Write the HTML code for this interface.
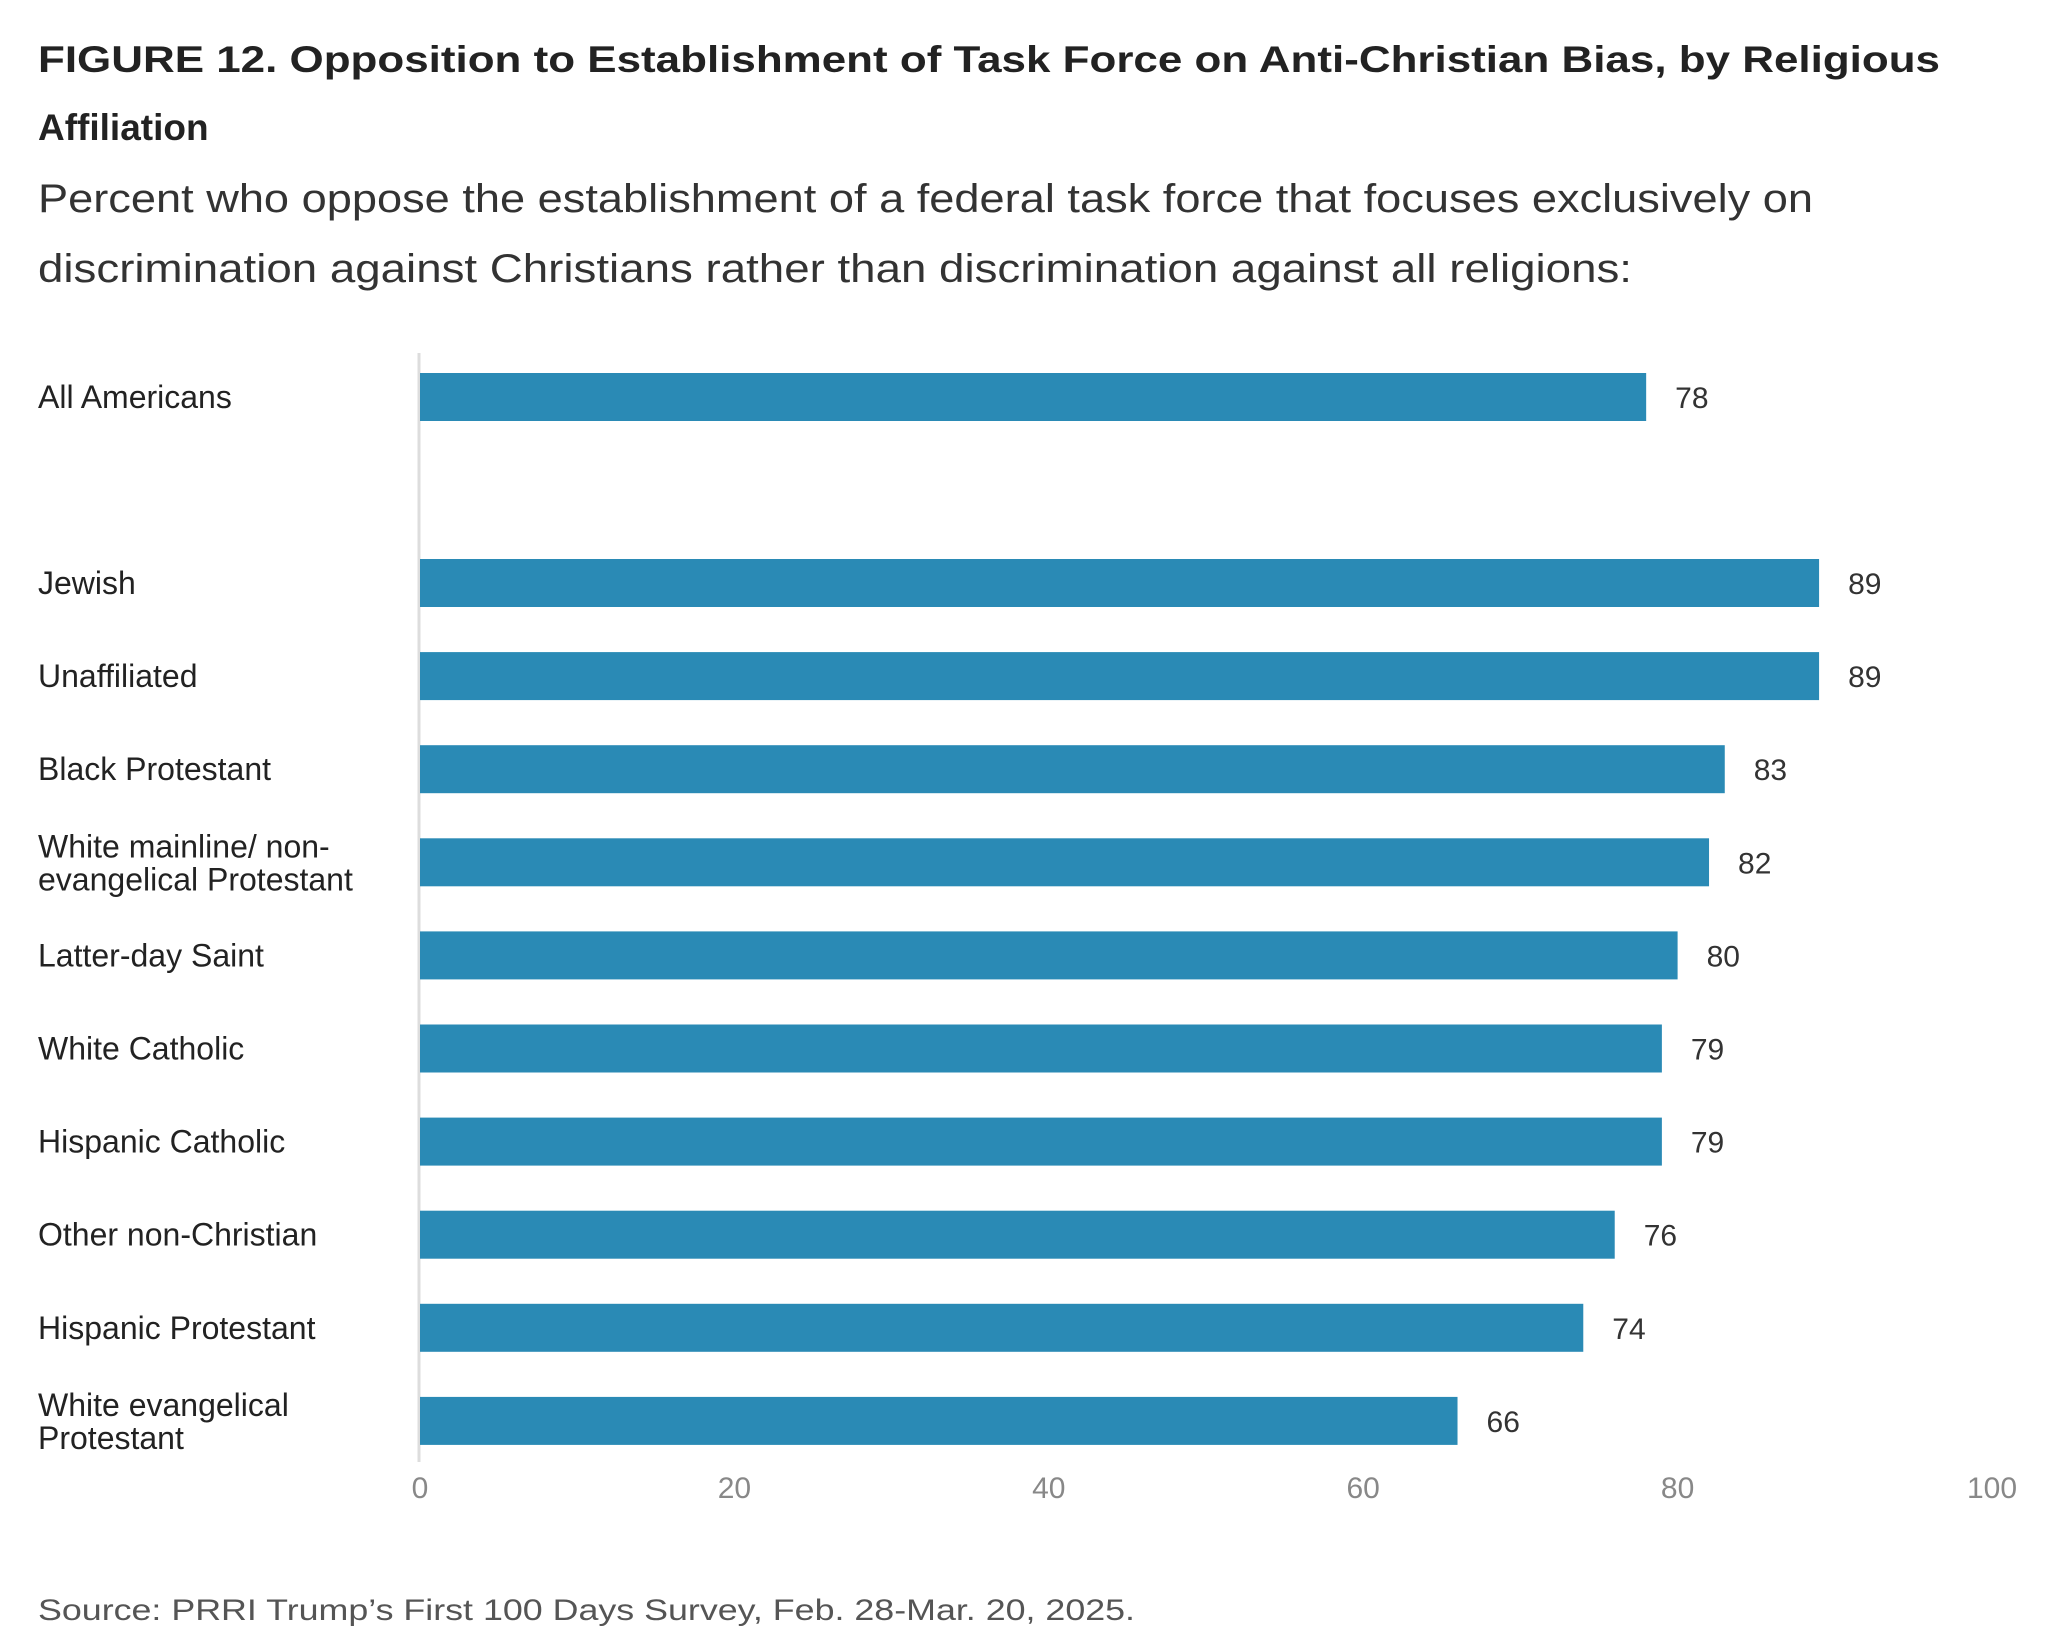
<!DOCTYPE html>
<html><head><meta charset="utf-8"><style>
body{margin:0;background:#fff}
svg{display:block;font-family:"Liberation Sans",sans-serif}
</style></head><body>
<svg id="chart" width="2064" height="1649" viewBox="0 0 2064 1649">
<text x="38" y="72" font-size="37" font-weight="bold" fill="#222" textLength="1902" lengthAdjust="spacingAndGlyphs">FIGURE 12.  Opposition to Establishment of Task Force on Anti-Christian Bias, by Religious</text>
<text x="38" y="140" font-size="37" font-weight="bold" fill="#222">Affiliation</text>
<text x="38" y="212" font-size="40" fill="#333" textLength="1775" lengthAdjust="spacingAndGlyphs">Percent who oppose the establishment of a federal task force that focuses exclusively on</text>
<text x="38" y="282" font-size="40" fill="#333" textLength="1594" lengthAdjust="spacingAndGlyphs">discrimination against Christians rather than discrimination against all religions:</text>
<line x1="419" y1="353" x2="419" y2="1462" stroke="#ddd" stroke-width="3"/>
<g id="bars"></g>
<g id="ticks"></g>
<text x="38" y="1620" font-size="30" fill="#555" textLength="1097" lengthAdjust="spacingAndGlyphs">Source: PRRI Trump’s First 100 Days Survey, Feb. 28-Mar. 20, 2025.</text>
</svg>
<script>
const categories = [["All Americans"],["Jewish"],["Unaffiliated"],["Black Protestant"],["White mainline/ non-","evangelical Protestant"],["Latter-day Saint"],["White Catholic"],["Hispanic Catholic"],["Other non-Christian"],["Hispanic Protestant"],["White evangelical","Protestant"]];
const values = [78,89,89,83,82,80,79,79,76,74,66];
const tickLabels = [0,20,40,60,80,100];
const NS="http://www.w3.org/2000/svg";
const x0=420, x1=1992;
function xs(v){return x0+(x1-x0)*v/100;}
function ys(i){return i===0?397:583+(i-1)*93.1;}
const bars=document.getElementById('bars');
values.forEach((v,i)=>{
  const cy=ys(i);
  const r=document.createElementNS(NS,'rect');
  r.setAttribute('x',x0);r.setAttribute('y',cy-24);
  r.setAttribute('width',xs(v)-x0);r.setAttribute('height',48);
  r.setAttribute('fill','#2a8ab5');
  
  
  bars.appendChild(r);
  const t=document.createElementNS(NS,'text');
  t.setAttribute('x',xs(v)+29);t.setAttribute('y',cy+11);
  t.setAttribute('font-size','30');t.setAttribute('fill','#333');
  t.textContent=v;
  
  
  bars.appendChild(t);
  const lines=categories[i];
  lines.forEach((ln,k)=>{
    const l=document.createElementNS(NS,'text');
    l.setAttribute('x',38);
    const off=lines.length===1?11:(k===0?-5:28);
    l.setAttribute('y',cy+off);
    l.setAttribute('font-size','32');l.setAttribute('fill','#222');
    l.textContent=ln;
    
    
    bars.appendChild(l);
  });
});
const ticks=document.getElementById('ticks');
tickLabels.forEach(v=>{
  const t=document.createElementNS(NS,'text');
  t.setAttribute('x',xs(v));t.setAttribute('y',1498);
  t.setAttribute('font-size','30');t.setAttribute('fill','#888');
  t.setAttribute('text-anchor','middle');
  t.textContent=v;
  
  
  ticks.appendChild(t);
});
</script>
</body></html>
